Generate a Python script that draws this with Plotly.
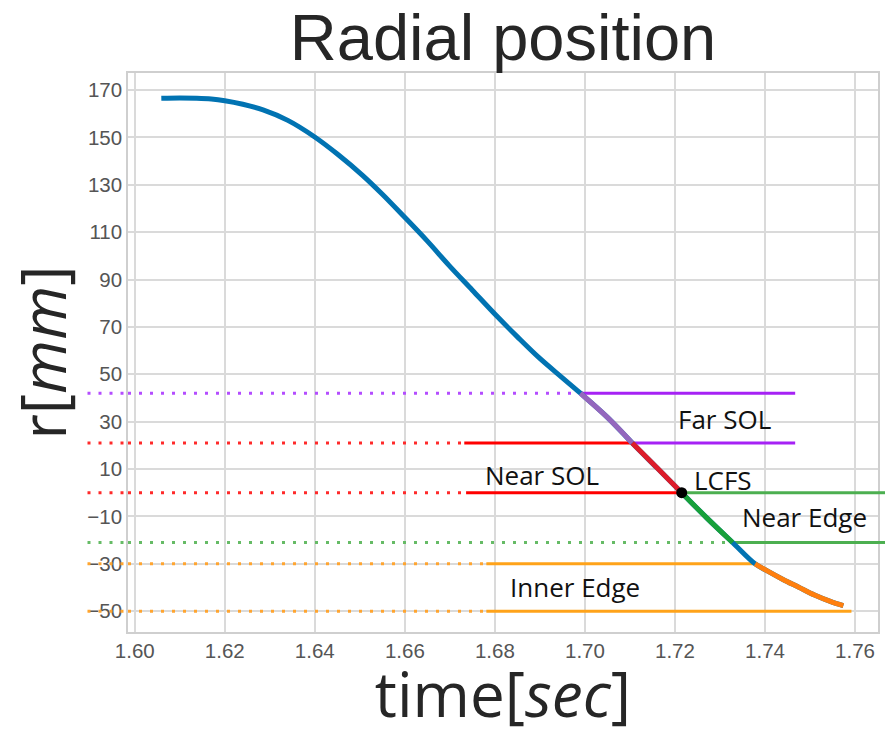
import plotly.graph_objects as go

# ---- probe trajectory: time [s] and radial position r [mm] ----
time_s = [1.6059, 1.6100, 1.6137, 1.6170, 1.6200, 1.6240, 1.6285, 1.6340,
          1.6399, 1.6450, 1.6506, 1.6550, 1.6597, 1.6650, 1.6698, 1.6750,
          1.6802, 1.6850, 1.6898, 1.6950, 1.6990, 1.7050, 1.7105, 1.7160,
          1.7215, 1.7270, 1.7328, 1.7378, 1.7405, 1.7440, 1.7474, 1.7510,
          1.7545, 1.7574]
radius_mm = [166.5, 166.6, 166.5, 166.2, 165.5, 164.0, 161.6, 157.2,
             150.3, 143.0, 134.0, 126.0, 116.8, 106.2, 96.0, 85.5,
             75.0, 65.8, 57.0, 48.5, 42.0, 31.8, 21.0, 10.5,
             0.0, -10.5, -21.0, -30.0, -33.0, -36.6, -39.8, -43.2,
             -45.9, -47.7]

# ---- region boundaries [mm] ----
far_sol_top = 42
near_sol_top = 21
lcfs = 0
near_edge_bottom = -21
inner_edge_top = -30
inner_edge_bottom = -50

# time at which the probe crosses the LCFS
lcfs_time = 1.7215

# solid boundary segments: level [mm], start / end time [s]
violet_level = [far_sol_top, near_sol_top]
violet_t0 = [1.6990, 1.7105]
violet_t1 = [1.7467, 1.7467]

red_level = [near_sol_top, lcfs]
red_t0 = [1.6732, 1.6736]
red_t1 = [1.7105, lcfs_time]

green_level = [lcfs, near_edge_bottom]
green_t0 = [lcfs_time, 1.7328]

orange_level = [inner_edge_top, inner_edge_bottom]
orange_t0 = [1.6781, 1.6781]
orange_t1 = [1.7378, 1.7592]

# dotted guides: level [mm] and the time where each guide stops
guide_level = [far_sol_top, near_sol_top, lcfs, near_edge_bottom,
               inner_edge_top, inner_edge_bottom]
guide_end = [1.6990, 1.6732, 1.6736, 1.7328, 1.6781, 1.6781]
guide_color = ["#b44dff", "#ff2a2a", "#ff2a2a", "#66bb66", "#ffa530", "#ffa530"]

# region labels
label_text = ["Far SOL", "Near SOL", "LCFS", "Near Edge", "Inner Edge"]
label_t = [1.7310, 1.6904, 1.7306, 1.7488, 1.6978]
label_r = [31.0, 7.3, 5.2, -10.4, -39.9]

x_range = [1.5985, 1.7651]
y_range = [-58.8, 177.2]
x_ticks = [1.60, 1.62, 1.64, 1.66, 1.68, 1.70, 1.72, 1.74, 1.76]
y_ticks = [170, 150, 130, 110, 90, 70, 50, 30, 10, -10, -30, -50]

fig = go.Figure()

# dotted guides inside the axes
for lvl, t_end, col in zip(guide_level, guide_end, guide_color):
    fig.add_trace(go.Scatter(
        x=[x_range[0], t_end], y=[lvl, lvl], mode="lines",
        line=dict(color=col, width=3, dash="3px,8px"),
        hoverinfo="skip", showlegend=False))
    # continuation of the guide into the left margin
    fig.add_shape(type="line", xref="x domain", yref="y",
                  x0=-0.054, x1=0.0, y0=lvl, y1=lvl,
                  line=dict(color=col, width=3, dash="3px,8px"))


def hline(levels, t0s, t1s, color):
    for lvl, a, b in zip(levels, t0s, t1s):
        fig.add_trace(go.Scatter(
            x=[a, b], y=[lvl, lvl], mode="lines",
            line=dict(color=color, width=3),
            hoverinfo="skip", showlegend=False))


hline(violet_level, violet_t0, violet_t1, "#a622f5")
hline(red_level, red_t0, red_t1, "#ff0000")
hline(green_level, green_t0, [x_range[1]] * len(green_level), "#4caf50")
hline(orange_level, orange_t0, orange_t1, "#ffa31a")

# green boundaries run a little past the right edge of the axes
for lvl in green_level:
    fig.add_shape(type="line", xref="x domain", yref="y",
                  x0=1.0, x1=1.02, y0=lvl, y1=lvl,
                  line=dict(color="#4caf50", width=3))

# full trajectory
fig.add_trace(go.Scatter(
    x=time_s, y=radius_mm, mode="lines",
    line=dict(color="#0173b2", width=5, shape="spline", smoothing=1.0),
    hoverinfo="skip", showlegend=False))


def segment(lo, hi, color):
    xs = [t for t, r in zip(time_s, radius_mm) if lo <= r <= hi]
    ys = [r for r in radius_mm if lo <= r <= hi]
    fig.add_trace(go.Scatter(
        x=xs, y=ys, mode="lines",
        line=dict(color=color, width=5, shape="spline", smoothing=1.0),
        hoverinfo="skip", showlegend=False))


segment(near_sol_top, far_sol_top, "#9467bd")
segment(lcfs, near_sol_top, "#dd1c2a")
segment(near_edge_bottom, lcfs, "#18a03a")
segment(-1000, inner_edge_top, "#ff7f0e")

# LCFS crossing
fig.add_trace(go.Scatter(
    x=[lcfs_time], y=[lcfs], mode="markers",
    marker=dict(color="black", size=11),
    hoverinfo="skip", showlegend=False))

for txt, t, r in zip(label_text, label_t, label_r):
    fig.add_annotation(x=t, y=r, xref="x", yref="y", text=txt,
                       showarrow=False, xanchor="center", yanchor="middle",
                       font=dict(family="Open Sans", size=26, color="#111111"))

axis_common = dict(
    showgrid=True, gridcolor="#dadada", gridwidth=1.5,
    showline=True, linecolor="#cfcfcf", linewidth=1.5, mirror=True,
    zeroline=False, ticks="",
    tickfont=dict(family="Liberation Sans", size=20.5, color="#555555"),
)

fig.update_layout(
    width=885, height=735,
    margin=dict(l=128, r=5, t=73, b=103),
    paper_bgcolor="white", plot_bgcolor="white",
    title=dict(text="Radial position", x=0.5, xref="paper", xanchor="center",
               y=0.950, yref="container", yanchor="middle",
               font=dict(family="Liberation Sans", size=65, color="#262626")),
    xaxis=dict(range=x_range, tickvals=x_ticks,
               ticktext=[f"{v:.2f}" for v in x_ticks],
               title=dict(text="time[<i>sec</i>]", standoff=7,
                          font=dict(family="Open Sans", size=62, color="#262626")),
               **axis_common),
    yaxis=dict(range=y_range, tickvals=y_ticks,
               title=dict(text="r[<i>mm</i>]", standoff=2,
                          font=dict(family="Open Sans", size=62, color="#262626")),
               **axis_common),
)

fig.write_html("out.html")
